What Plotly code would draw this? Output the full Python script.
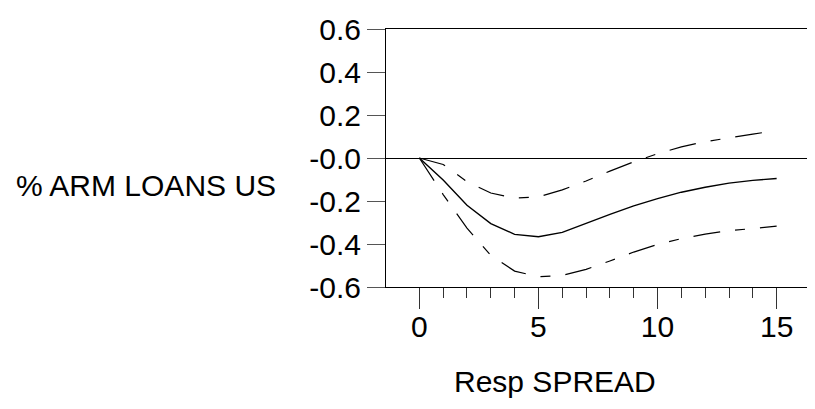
import plotly.graph_objects as go

periods = list(range(16))
response = [0.0, -0.102, -0.22, -0.305, -0.355, -0.366, -0.346, -0.303, -0.262,
            -0.223, -0.189, -0.159, -0.136, -0.117, -0.104, -0.095]
upper = [0.0, -0.03, -0.11, -0.163, -0.186, -0.181, -0.148, -0.107, -0.061,
         -0.018, 0.02, 0.052, 0.076, 0.095, 0.111, 0.128]
lower = [0.0, -0.17, -0.326, -0.453, -0.526, -0.552, -0.546, -0.518, -0.479,
         -0.4375, -0.402, -0.375, -0.354, -0.338, -0.328, -0.317]

y_ticks = [-0.6, -0.4, -0.2, 0.0, 0.2, 0.4, 0.6]
y_tick_labels = ["-0.6", "-0.4", "-0.2", "-0.0", "0.2", "0.4", "0.6"]
x_ticks = [0, 5, 10, 15]
x_minor_ticks = [1, 2, 3, 4, 6, 7, 8, 9, 11, 12, 13, 14]

y_title = "% ARM LOANS US"
x_title = "Resp SPREAD"

FONT = "Liberation Sans, Arial, sans-serif"
FS = 30
band_dash = "27px,15px,10px,15px"

# page body has an 8px default margin; compensate so the picture lines up
OFF = 8
W, H = 815 - OFF, 409 - OFF
l, r, t, b = 386 - OFF, 4, 24.5 - OFF, 122
pw, ph = W - l - r, H - t - b

fig = go.Figure()
fig.add_trace(go.Scatter(x=periods, y=upper, mode="lines",
                         line=dict(color="black", width=1.2, dash=band_dash)))
fig.add_trace(go.Scatter(x=periods, y=lower, mode="lines",
                         line=dict(color="black", width=1.2, dash=band_dash)))
fig.add_trace(go.Scatter(x=periods, y=response, mode="lines",
                         line=dict(color="black", width=1.4)))


def ann(text, px, py):
    # px, py are page pixel positions of the text centre
    return dict(text=text, xref="paper", yref="paper",
                x=(px - OFF - l) / pw, y=(H - b - (py - OFF)) / ph,
                xanchor="center", yanchor="middle", showarrow=False,
                font=dict(size=FS, family=FONT, color="black"))


fig.update_layout(
    width=W, height=H,
    margin=dict(l=l, r=r, t=t, b=b, pad=0),
    paper_bgcolor="white", plot_bgcolor="white",
    showlegend=False,
    font=dict(family=FONT, size=FS, color="black"),
    xaxis=dict(range=[-1.4, 16.4], tickvals=x_ticks, ticks="outside", ticklen=21,
               tickcolor="#333", tickwidth=1, showline=True, linecolor="black",
               linewidth=1, mirror=True, showgrid=False, zeroline=False,
               minor=dict(tickvals=x_minor_ticks, ticks="outside", ticklen=10,
                          tickcolor="#333", tickwidth=1, showgrid=False),
               tickfont=dict(size=FS), ticklabelstandoff=-8),
    yaxis=dict(range=[-0.6, 0.6], tickvals=y_ticks, ticktext=y_tick_labels,
               ticks="outside", ticklen=18, tickcolor="#555", tickwidth=1,
               showline=True, linecolor="black", linewidth=1, mirror=True,
               showgrid=False, zeroline=True, zerolinecolor="black",
               zerolinewidth=1, tickfont=dict(size=FS), ticklabelstandoff=0),
    annotations=[ann(y_title, 145, 184), ann(x_title, 555.5, 383)],
)

fig.write_html("out.html")
